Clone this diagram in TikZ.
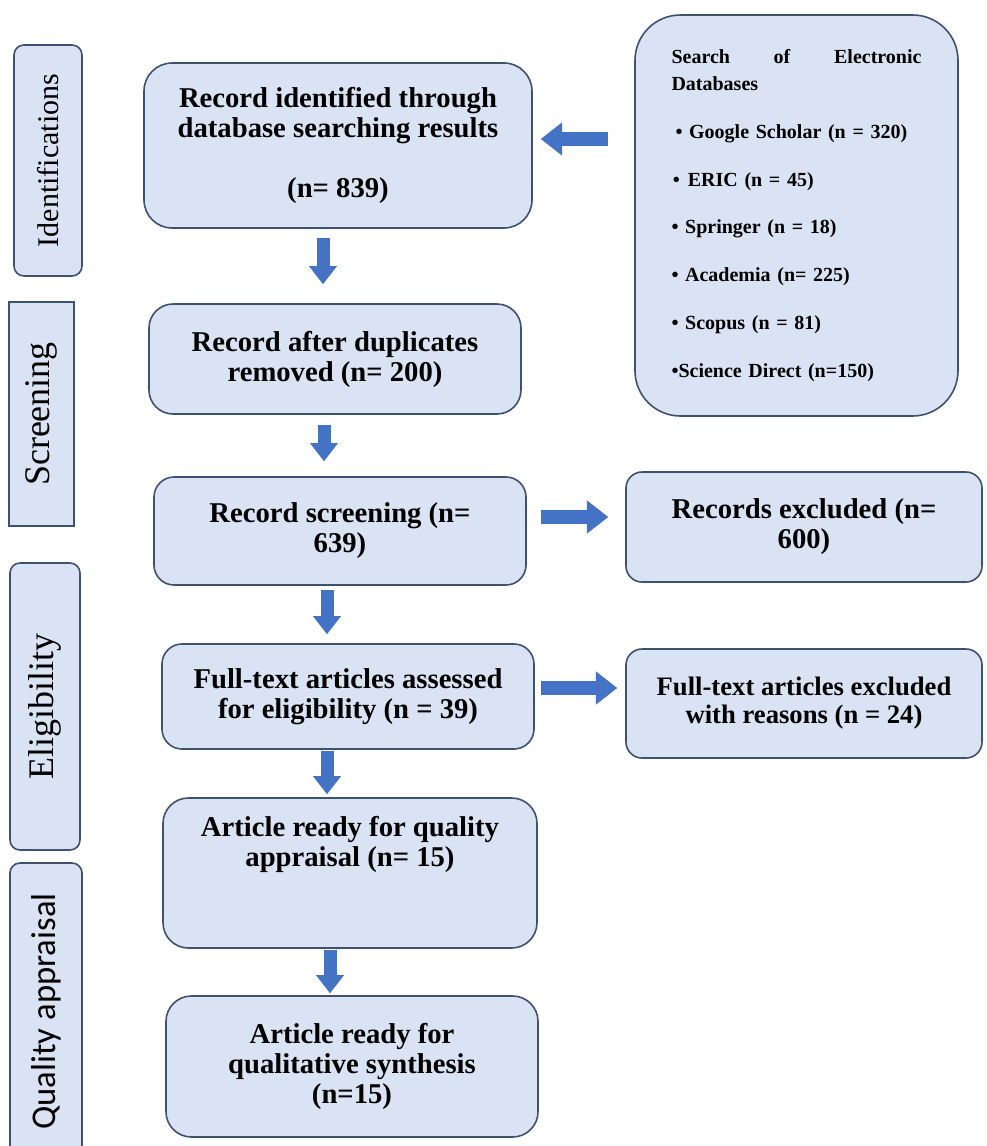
\documentclass[tikz,border=0pt]{standalone}
\usepackage{fontspec}
\setmainfont{Liberation Serif}
\newfontfamily\calibrifont{Carlito}
\usetikzlibrary{arrows.meta,calc}

\begin{document}
\begin{tikzpicture}[thick, x=0.75pt, y=-0.75pt]
  % Definición de colores
  \definecolor{boxfill}{RGB}{218, 227, 243} % Azul claro de las cajas
  \definecolor{boxedge}{RGB}{62, 82, 112}   % Borde gris azulado
  \definecolor{arrowblue}{RGB}{68, 114, 196} % Flechas

  % Marco de la imagen (en píxeles, y hacia abajo)
  \useasboundingbox (0,0) rectangle (986,1146);

  % --- Estilos ---
  \tikzset{
    stagebox/.style={draw=boxedge, fill=boxfill, line width=1.2pt, rounded corners=15pt, align=center, inner sep=4pt, font=\fontsize{21.5}{22.5}\selectfont\bfseries},
    phasebox/.style={draw=boxedge, fill=boxfill, line width=1.2pt, rounded corners=7.5pt, rotate=90},
    downarrow/.style={draw=arrowblue, line width=9.75pt, -{Triangle[width=21pt, length=13.5pt, line width=0pt]}},
    sidearrow/.style={draw=arrowblue, line width=10.5pt, -{Triangle[width=25pt, length=16pt, line width=0pt]}}
  }

  % --- Fases (etiquetas laterales) ---
  \node[phasebox, minimum width=173.25pt, minimum height=51pt, font=\fontsize{22.5}{27}\selectfont] (identif) at (48,160.5) {Identifications};
  \node[phasebox, sharp corners, minimum width=168pt, minimum height=48.75pt, font=\fontsize{27}{32}\selectfont] (screening) at (41.5,414) {Screening};
  \node[phasebox, minimum width=215.25pt, minimum height=52.5pt, font=\fontsize{27}{32}\selectfont] (eligib) at (45,706.5) {Eligibility};
  \node[phasebox, minimum width=222.75pt, minimum height=54pt, font=\calibrifont\fontsize{26}{31}\selectfont] (quality) at (46,1011.5) {Quality appraisal};

  % --- Columna principal ---
  \node[stagebox, rounded corners=21pt, minimum width=291pt, minimum height=123.75pt] (found) at (338,145.5) {Record identified through\\database searching results\\[22.5pt](n= 839)};
  \node[stagebox, rounded corners=18pt, minimum width=279pt, minimum height=82.5pt] (dedup) at (335,359) {Record after duplicates\\removed (n= 200)};
  \node[stagebox, minimum width=279pt, minimum height=81pt] (screened) at (340,531) {Record screening (n=\\639)};
  \node[stagebox, minimum width=279pt, minimum height=78.75pt] (assessed) at (348,696.5) {Full-text articles assessed\\for eligibility (n = 39)};
  \node[stagebox, rounded corners=19pt, minimum width=280.5pt, minimum height=112.5pt] (appraisal) at (350,873) {Article ready for quality\\appraisal (n= 15)\\[25pt]\mbox{}};
  \node[stagebox, rounded corners=19pt, minimum width=279pt, minimum height=105.75pt] (synthesis) at (352,1066.5) {Article ready for\\qualitative synthesis\\(n=15)};

  % --- Columna derecha ---
  \node[stagebox, rounded corners=34pt, minimum width=242.25pt, minimum height=300.75pt, text width=187.5pt, align=left, font=\fontsize{15}{20.25}\selectfont\bfseries] (databases) at (796.5,215.5)
    {\makebox[187.5pt][l]{Search\hfill of\hfill Electronic}\\Databases\\[15.6pt]
     \hspace*{3pt}• Google Scholar (n = 320)\\[15.6pt]
     \hspace*{1pt}•\hspace{6pt}ERIC (n = 45)\\[15.6pt]
     • Springer (n = 18)\\[15.6pt]
     • Academia (n= 225)\\[15.6pt]
     • Scopus (n = 81)\\[15.6pt]
     •Science Direct (n=150)};
  \node[stagebox, rounded corners=12pt, minimum width=267pt, minimum height=82.5pt] (recexcl) at (804,527) {Records excluded (n=\\600)};
  \node[stagebox, rounded corners=12pt, minimum width=267pt, minimum height=81.75pt, font=\fontsize{20}{21}\selectfont\bfseries] (ftexcl) at (804,703.5) {Full-text articles excluded\\with reasons (n = 24)};

  % --- Flechas ---
  \draw[sidearrow, shorten <=19.5pt, shorten >=6pt] ($(databases.west |- found.east)+(0,-6.5)$) -- ($(found.east)+(0,-6.5)$);
  \draw[sidearrow, shorten <=10.5pt, shorten >=12.75pt] ($(screened.east)+(0,-14)$) -- ($(recexcl.west |- screened.east)+(0,-14)$);
  \draw[sidearrow, shorten <=4.5pt, shorten >=6pt] ($(assessed.east)+(0,-8.5)$) -- ($(ftexcl.west |- assessed.east)+(0,-8.5)$);

  \draw[downarrow, shorten <=6.75pt, shorten >=14.25pt] ($(found.south)+(-15,0)$) -- ($(found.south |- dedup.north)+(-15,0)$);
  \draw[downarrow, shorten <=7.5pt, shorten >=11.25pt] ($(dedup.south)+(-11,0)$) -- ($(dedup.south |- screened.north)+(-11,0)$);
  \draw[downarrow, shorten <=3pt, shorten >=6.75pt] ($(screened.south)+(-13,0)$) -- ($(screened.south |- assessed.north)+(-13,0)$);
  \draw[downarrow, shorten <=0.75pt, shorten >=2.25pt] ($(assessed.south)+(-21,0)$) -- ($(assessed.south |- appraisal.north)+(-21,0)$);
  \draw[downarrow, shorten <=0.75pt, shorten >=1.5pt] ($(appraisal.south)+(-20,0)$) -- ($(appraisal.south |- synthesis.north)+(-20,0)$);

\end{tikzpicture}
\end{document}
